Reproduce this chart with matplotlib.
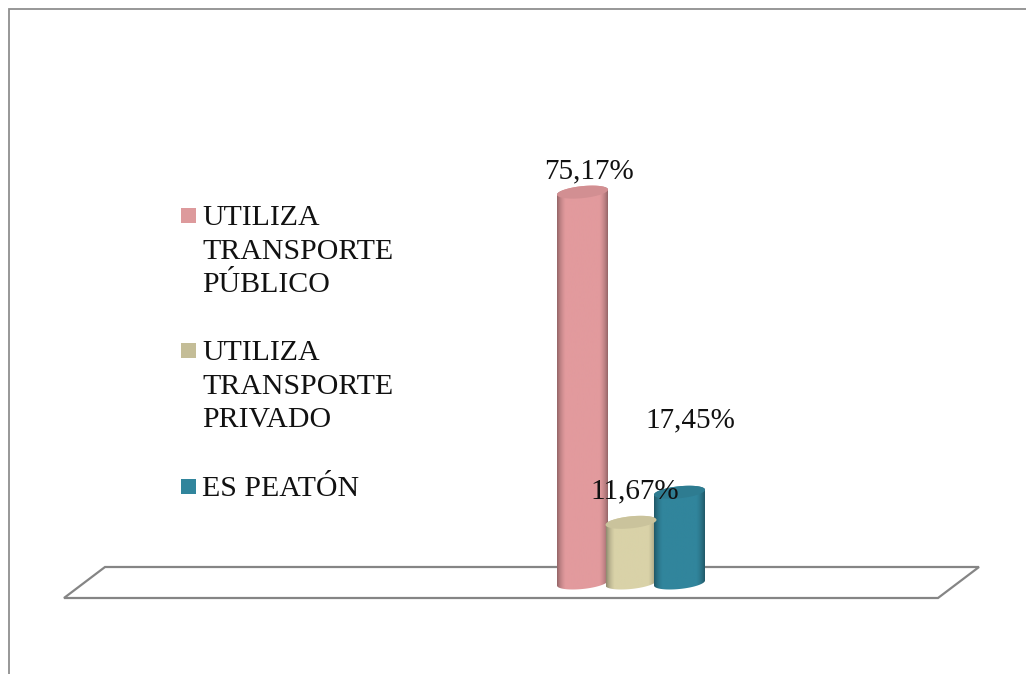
import numpy as np
import matplotlib
matplotlib.use("Agg")
import matplotlib.pyplot as plt
from matplotlib.colors import to_rgb
from matplotlib.patches import PathPatch, Polygon, Rectangle
from matplotlib.path import Path

# values
categories = ["UTILIZA\nTRANSPORTE\nPÚBLICO", "UTILIZA\nTRANSPORTE\nPRIVADO", "ES PEATÓN"]
values = [75.17, 11.67, 17.45]
value_labels = ["75,17%", "11,67%", "17,45%"]
colors = ["#e29a9d", "#d9d2a8", "#31859c"]
legend_colors = ["#dd9a9c", "#c4bd97", "#31859c"]

W, H = 1026, 674
BASE_PX = 583      # pixel row of value 0
PX_PER_UNIT = 5.2

plt.rcParams["font.family"] = ["Liberation Serif", "DejaVu Serif"]
fig = plt.figure(figsize=(W / 100, H / 100), dpi=100)

# pixel axes for frame, floor and legend
bg = fig.add_axes([0, 0, 1, 1])
bg.set_xlim(0, W)
bg.set_ylim(H, 0)
bg.axis("off")

bg.plot([9, 9, W], [H, 9, 9], color="#8f8f8f", lw=1.3, solid_joinstyle="miter")
bg.add_patch(Polygon([(64, 598), (105, 567), (979, 567), (938, 598)], closed=True,
                     fill=False, ec="#858585", lw=1.6))

# legend
swatch_y = [208, 343, 479]
text_y = [225, 360, 496]
for name, c, sy, ty in zip(categories, legend_colors, swatch_y, text_y):
    bg.add_patch(Rectangle((181, sy), 15, 15, fc=c, ec="none"))
    for j, line in enumerate(name.split("\n")):
        bg.text(202, ty + j * 33.7, line, fontsize=21.5, color="#111111", va="baseline", ha="left")

# bars: x still in pixels, y in chart values
ax = fig.add_axes([0, 0, 1, 1], facecolor="none")
ax.axis("off")


def cylinder(xc, v, color, half=25.5):
    ry = 6.0 / PX_PER_UNIT
    tilt = 2.5 / PX_PER_UNIT
    base = np.array(to_rgb(color))
    t = np.linspace(0, np.pi, 60)
    # body outline: back arc at the top, front arc at the bottom
    xs_top = xc + half * np.cos(t)
    ys_top = v + ry * np.sin(t) + tilt * np.cos(t)
    xs_bot = xc - half * np.cos(t)
    ys_bot = -ry * np.sin(t) - tilt * np.cos(t)
    verts = np.column_stack([np.r_[xs_top, xs_bot], np.r_[ys_top, ys_bot]])
    clip = PathPatch(Path(np.vstack([verts, verts[:1]]), closed=True), fc="none", ec="none",
                     transform=ax.transData)
    ax.add_patch(clip)
    # shading across the body, dark at the edges
    u = np.linspace(-1, 1, 120)
    shade = 0.66 + 0.34 * np.clip((1 - np.abs(u) ** 4) * 1.25, 0, 1)
    grad = (base[None, :] * shade[:, None])[None, :, :]
    im = ax.imshow(grad, extent=(xc - half, xc + half, -2 * ry, v + 2 * ry), aspect="auto",
                   origin="lower", zorder=2)
    im.set_clip_path(clip)
    # top cap, only a little darker than the body
    tt = np.linspace(0, 2 * np.pi, 100)
    cap = np.column_stack([xc + half * np.cos(tt), v + ry * np.sin(tt) + tilt * np.cos(tt)])
    ax.add_patch(Polygon(cap, closed=True, fc=base * 0.93, ec="none", zorder=2.1))


x0 = 582.5
step = 48.5
for i, (v, c) in enumerate(zip(values, colors)):
    cylinder(x0 + i * step, v, c)
ax.set_xlim(0, W)
ax.set_ylim((BASE_PX - H) / PX_PER_UNIT, BASE_PX / PX_PER_UNIT)

# value labels sit where the original left them, not centred on the bars
label_x = [589, 635, 690.5]
label_y = [178, 498, 427]
for lab, lx, ly in zip(value_labels, label_x, label_y):
    fig.text(lx / W, 1 - ly / H, lab, fontsize=21, color="#111111", ha="center", va="baseline")

fig.savefig("out.png", dpi=100)
